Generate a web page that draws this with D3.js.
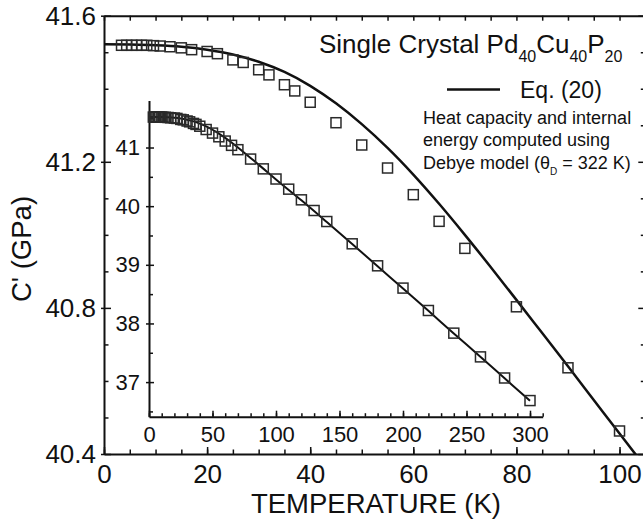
<!DOCTYPE html>
<html>
<head>
<meta charset="utf-8">
<script src="https://cdn.jsdelivr.net/npm/d3@7"></script>
<style>
  html, body { margin: 0; padding: 0; background: #fff; }
  svg { display: block; font-family: "Liberation Sans", Arial, Helvetica, sans-serif; }
</style>
</head>
<body>
<svg id="chart" width="643" height="526"></svg>
<script>
// Measured shear modulus C' of single-crystal Pd40Cu40P20 (GPa) vs temperature (K)
const lowTemps = [3.4, 4.4, 5.4, 6.3, 7.3, 8.3, 9.6, 10.9, 12.8, 15, 17, 20, 22, 25, 27, 30, 32, 35, 37, 40, 45, 50, 55, 60, 65, 70, 80, 90, 100];
const lowModulus = [41.519, 41.519, 41.519, 41.519, 41.519, 41.519, 41.518, 41.517, 41.515, 41.512, 41.507, 41.502, 41.496, 41.479, 41.472, 41.452, 41.438, 41.411, 41.394, 41.363, 41.307, 41.246, 41.183, 41.110, 41.037, 40.963, 40.803, 40.636, 40.463];
// Additional measurements above 100 K (shown only in the inset)
const highTemps = [110, 120, 130, 140, 160, 180, 200, 220, 240, 261, 280, 300];
const highModulus = [40.290, 40.108, 39.926, 39.738, 39.358, 38.983, 38.603, 38.221, 37.835, 37.430, 37.070, 36.685];

// Eq. (20): heat capacity / internal energy from the Debye model (theta_D = 322 K)
const eqTemps = [0, 5, 10, 15, 20, 25, 30, 35, 40, 45, 50, 55, 60, 65, 70, 75, 80, 85, 90, 95, 100, 103.5];
const eqModulus = [41.522, 41.521, 41.519, 41.515, 41.507, 41.494, 41.474, 41.446, 41.408, 41.360, 41.303, 41.238, 41.165, 41.085, 41.000, 40.912, 40.822, 40.731, 40.640, 40.548, 40.456, 40.392];
const eqHighTemps = [120, 140, 160, 180, 200, 220, 240, 260, 280, 300];
const eqHighModulus = [40.100, 39.730, 39.355, 38.975, 38.595, 38.215, 37.830, 37.450, 37.065, 36.680];

// Tick values
const mainXTicks = [0, 20, 40, 60, 80, 100];
const mainXMinor = d3.range(0, 105.1, 5);
const mainYTicks = [40.4, 40.8, 41.2, 41.6];
const mainYMinor = [40.5, 40.6, 40.7, 40.9, 41.0, 41.1, 41.3, 41.4, 41.5];
const insetXTicks = [0, 50, 100, 150, 200, 250, 300];
const insetXMinor = d3.range(0, 310.1, 10);
const insetYTicks = [37, 38, 39, 40, 41];
const insetYMinor = [36.5, 37.5, 38.5, 39.5, 40.5, 41.5];

const svg = d3.select("#chart");
const FONT = "'Liberation Sans', Arial, Helvetica, sans-serif";

// ---------- main panel ----------
const x = d3.scaleLinear().domain([0, 105]).range([104, 645.3]);
const y = d3.scaleLinear().domain([40.4, 41.6]).range([454, 15.7]);

svg.append("defs").append("clipPath").attr("id", "mainClip")
  .append("rect")
  .attr("x", x(0)).attr("y", y(41.6))
  .attr("width", x(105) - x(0)).attr("height", y(40.4) - y(41.6));

function styleAxis(g, fontSize) {
  g.selectAll(".domain").attr("stroke", "#111").attr("stroke-width", 2);
  g.selectAll(".tick line").attr("stroke", "#111").attr("stroke-width", 1.5);
  g.selectAll(".tick text").attr("fill", "#111").style("font-size", fontSize + "px").style("font-family", FONT);
}

// bottom axis
const gxb = svg.append("g").attr("transform", `translate(0,${y(40.4)})`);
gxb.call(d3.axisBottom(x).tickValues(mainXTicks).tickSize(-7).tickSizeOuter(0).tickPadding(11).tickFormat(d3.format("d")));
gxb.append("g").call(d3.axisBottom(x).tickValues(mainXMinor).tickSize(-4.5).tickSizeOuter(0).tickFormat(""))
  .select(".domain").remove();
styleAxis(gxb, 26);

// top axis
const gxt = svg.append("g").attr("transform", `translate(0,${y(41.6)})`);
gxt.call(d3.axisTop(x).tickValues(mainXMinor).tickSize(-5).tickSizeOuter(0).tickFormat(""));
styleAxis(gxt, 26);

// left axis
const gyl = svg.append("g").attr("transform", `translate(${x(0)},0)`);
gyl.call(d3.axisLeft(y).tickValues(mainYTicks).tickSize(-7).tickSizeOuter(0).tickPadding(8).tickFormat(d3.format(".1f")));
gyl.append("g").call(d3.axisLeft(y).tickValues(mainYTicks).tickSize(3).tickSizeOuter(0).tickFormat(""))
  .select(".domain").remove();
gyl.append("g").call(d3.axisLeft(y).tickValues(mainYMinor).tickSize(-4.5).tickSizeOuter(0).tickFormat(""))
  .select(".domain").remove();
styleAxis(gyl, 26);

// right axis
const gyr = svg.append("g").attr("transform", `translate(${x(105)},0)`);
gyr.call(d3.axisRight(y).tickValues(mainYTicks).tickSize(-7).tickSizeOuter(0).tickFormat(""));
gyr.append("g").call(d3.axisRight(y).tickValues(mainYMinor).tickSize(-4.5).tickSizeOuter(0).tickFormat(""))
  .select(".domain").remove();
styleAxis(gyr, 26);

// axis titles
svg.append("text")
  .attr("x", 376).attr("y", 513)
  .attr("text-anchor", "middle")
  .style("font-size", "27.5px").style("font-family", FONT).attr("fill", "#111")
  .text("TEMPERATURE (K)");

svg.append("text")
  .attr("transform", "translate(31,249) rotate(-90)")
  .attr("text-anchor", "middle")
  .style("font-size", "27.5px").style("font-family", FONT).attr("fill", "#111")
  .text("C' (GPa)");

// Eq. (20) curve, main panel
const mainLine = d3.line().x(d => x(d[0])).y(d => y(d[1])).curve(d3.curveMonotoneX);
svg.append("path")
  .datum(eqTemps.map((t, i) => [t, eqModulus[i]]))
  .attr("clip-path", "url(#mainClip)")
  .attr("d", mainLine)
  .attr("fill", "none").attr("stroke", "#111").attr("stroke-width", 2.5);

// measured points, main panel
const SQ = 10;
svg.append("g").selectAll("rect")
  .data(lowTemps.map((t, i) => [t, lowModulus[i]]))
  .join("rect")
  .attr("x", d => x(d[0]) - SQ / 2).attr("y", d => y(d[1]) - SQ / 2)
  .attr("width", SQ).attr("height", SQ)
  .attr("fill", "none").attr("stroke", "#2a2a2a").attr("stroke-width", 1.5);

// title
const title = svg.append("text")
  .attr("x", 319).attr("y", 52.5)
  .style("font-size", "26px").style("font-family", FONT).attr("fill", "#111");
title.append("tspan").text("Single Crystal Pd");
title.append("tspan").attr("dy", 9).style("font-size", "16px").text("40");
title.append("tspan").attr("dy", -9).text("Cu");
title.append("tspan").attr("dy", 9).style("font-size", "16px").text("40");
title.append("tspan").attr("dy", -9).text("P");
title.append("tspan").attr("dy", 9).style("font-size", "16px").text("20");

// legend
svg.append("line")
  .attr("x1", 447).attr("x2", 500).attr("y1", 89.5).attr("y2", 89.5)
  .attr("stroke", "#111").attr("stroke-width", 2.5);
svg.append("text")
  .attr("x", 520).attr("y", 98)
  .style("font-size", "23px").style("font-family", FONT).attr("fill", "#111")
  .text("Eq. (20)");

const noteLines = ["Heat capacity and internal", "energy computed using"];
noteLines.forEach((s, i) => {
  svg.append("text")
    .attr("x", 423).attr("y", 123.5 + i * 22.5)
    .style("font-size", "18px").style("font-family", FONT).attr("fill", "#111")
    .text(s);
});
const note3 = svg.append("text")
  .attr("x", 423).attr("y", 168.5)
  .style("font-size", "18px").style("font-family", FONT).attr("fill", "#111");
note3.append("tspan").text("Debye model (\u03B8");
note3.append("tspan").attr("dy", 6).style("font-size", "10px").text("D");
note3.append("tspan").attr("dy", -6).text(" = 322 K)");

// ---------- inset ----------
const ix = d3.scaleLinear().domain([0, 310]).range([149, 542.7]);
const iy = d3.scaleLinear().domain([36.41, 41.8]).range([416.7, 100.6]);

const gib = svg.append("g").attr("transform", `translate(0,${iy(36.41)})`);
gib.call(d3.axisBottom(ix).tickValues(insetXTicks).tickSize(-6).tickSizeOuter(0).tickPadding(10).tickFormat(d3.format("d")));
gib.append("g").call(d3.axisBottom(ix).tickValues(insetXMinor).tickSize(-3.5).tickSizeOuter(0).tickFormat(""))
  .select(".domain").remove();
styleAxis(gib, 22);

const gil = svg.append("g").attr("transform", `translate(${ix(0)},0)`);
gil.call(d3.axisLeft(iy).tickValues(insetYTicks).tickSize(-5).tickSizeOuter(0).tickPadding(9).tickFormat(d3.format("d")));
gil.append("g").call(d3.axisLeft(iy).tickValues(insetYTicks).tickSize(3).tickSizeOuter(0).tickFormat(""))
  .select(".domain").remove();
gil.append("g").call(d3.axisLeft(iy).tickValues(insetYMinor).tickSize(-4).tickSizeOuter(0).tickFormat(""))
  .select(".domain").remove();
styleAxis(gil, 22);

const insetLine = d3.line().x(d => ix(d[0])).y(d => iy(d[1])).curve(d3.curveMonotoneX);
const insetCurve = eqTemps.slice(0, -1).map((t, i) => [t, eqModulus[i]])
  .concat(eqHighTemps.map((t, i) => [t, eqHighModulus[i]]));
svg.append("path")
  .datum(insetCurve)
  .attr("d", insetLine)
  .attr("fill", "none").attr("stroke", "#111").attr("stroke-width", 2);

const insetPts = lowTemps.map((t, i) => [t, lowModulus[i]])
  .concat(highTemps.map((t, i) => [t, highModulus[i]]));
svg.append("g").selectAll("rect")
  .data(insetPts)
  .join("rect")
  .attr("x", d => ix(d[0]) - SQ / 2).attr("y", d => iy(d[1]) - SQ / 2)
  .attr("width", SQ).attr("height", SQ)
  .attr("fill", "none").attr("stroke", "#2a2a2a").attr("stroke-width", 1.5);
</script>
</body>
</html>
